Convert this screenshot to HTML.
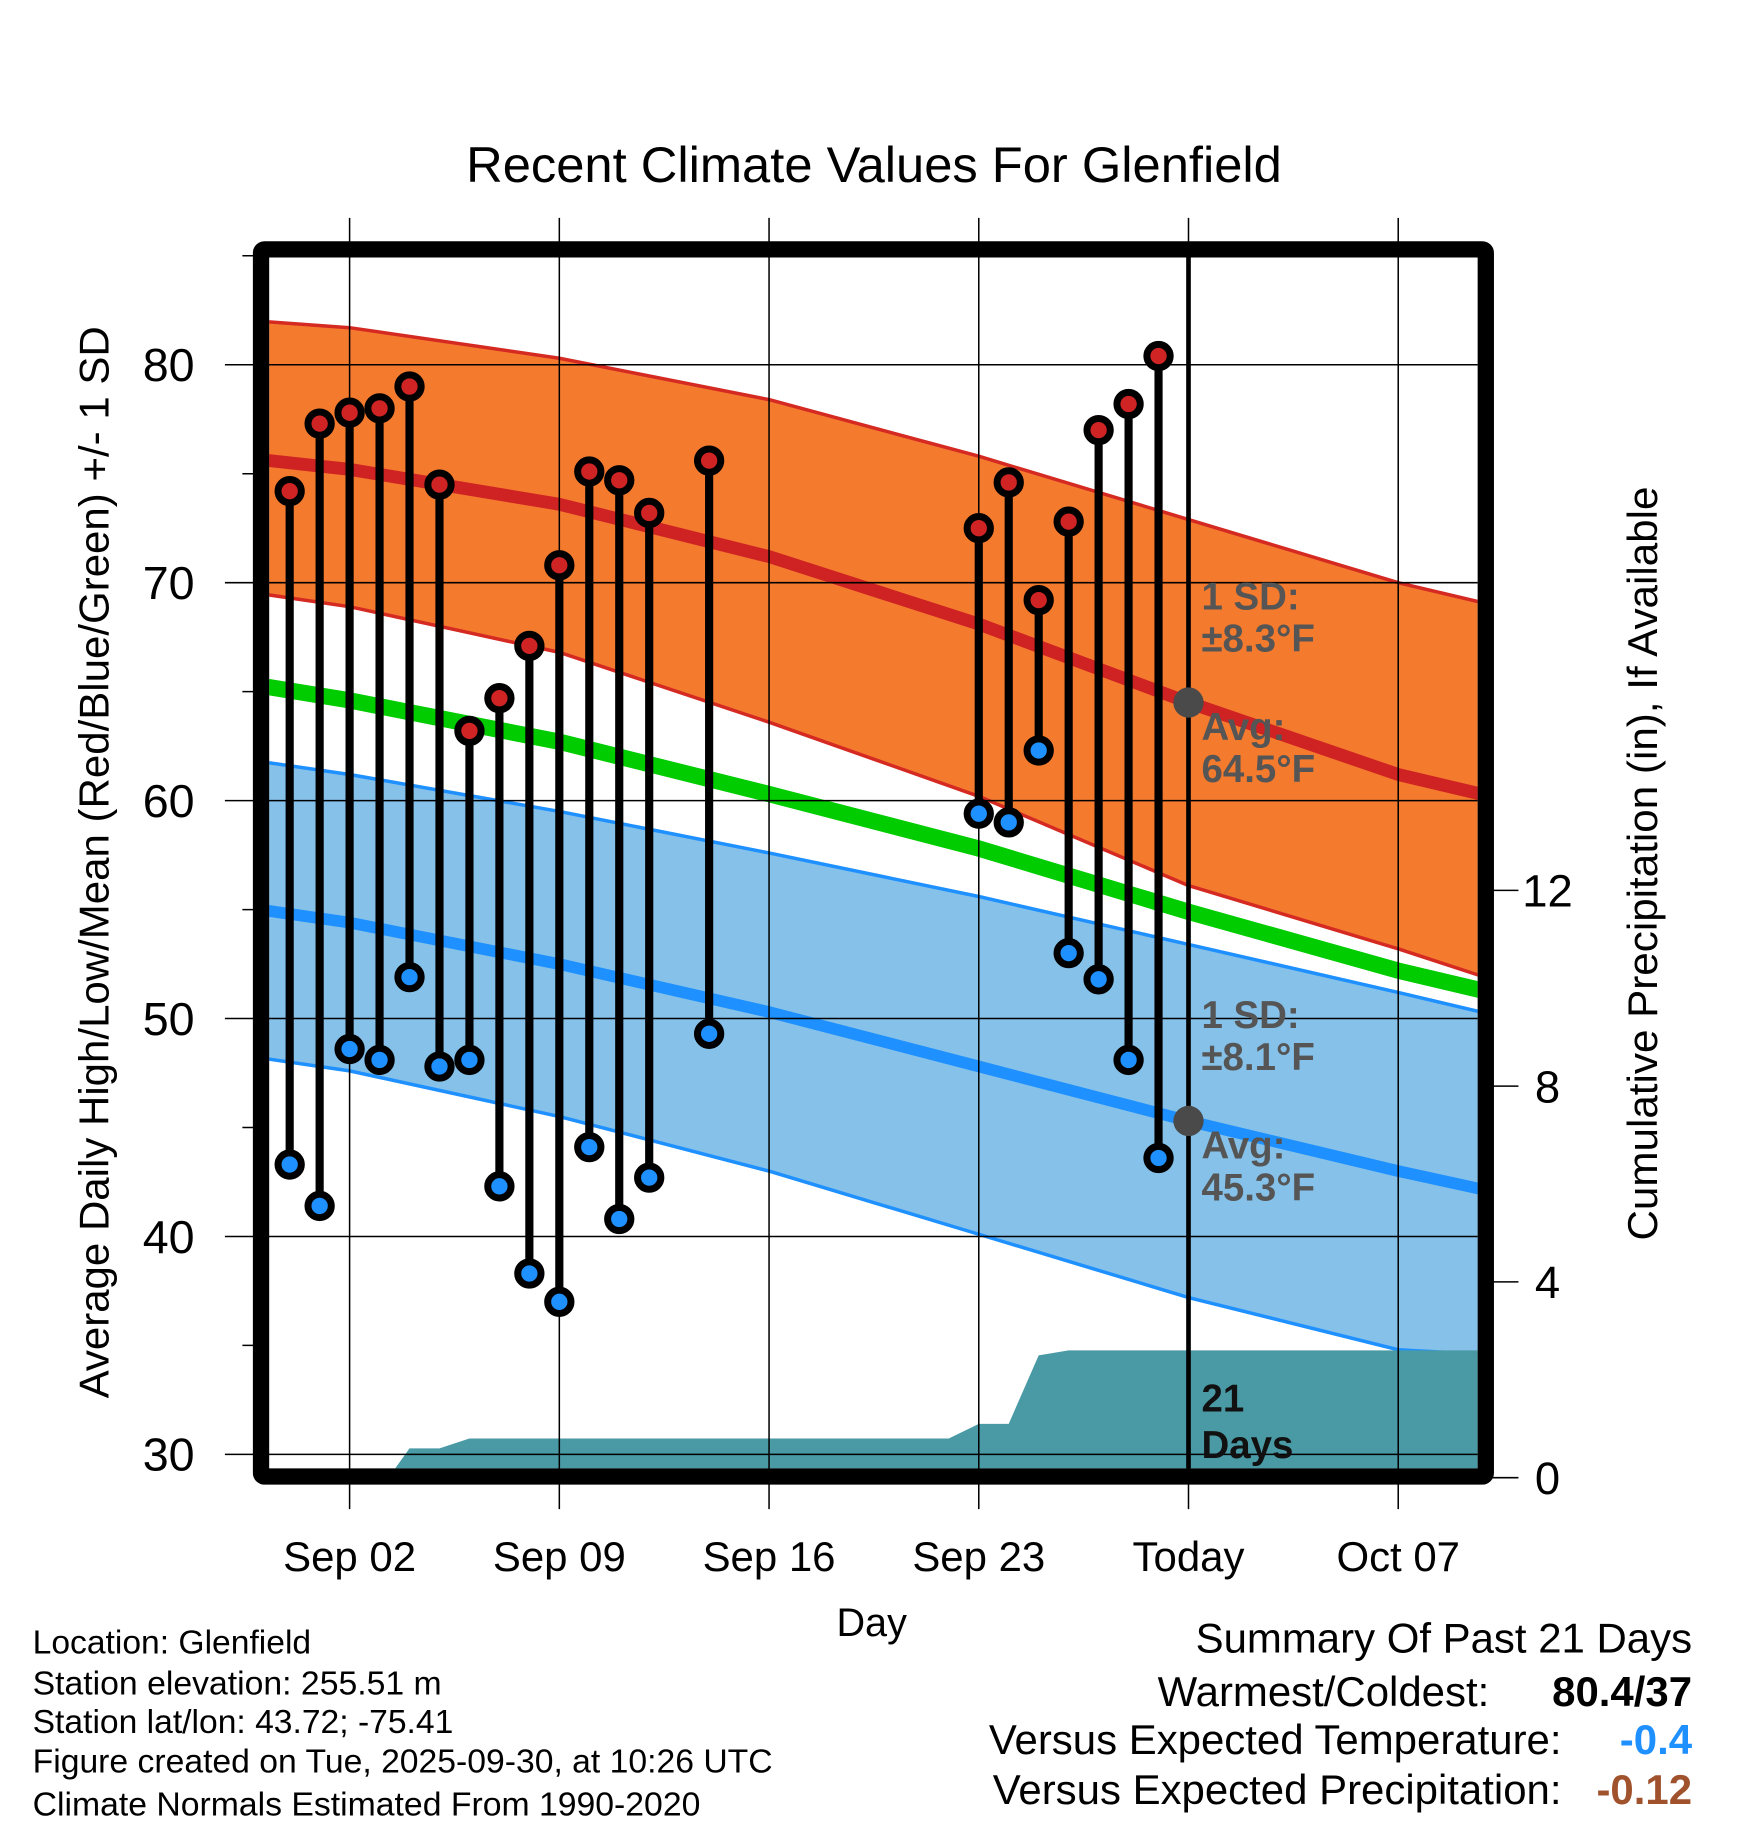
<!DOCTYPE html>
<html><head><meta charset="utf-8"><style>html,body{margin:0;padding:0;background:#fff}svg{display:block}text{font-family:"Liberation Sans",Arial,sans-serif}</style></head>
<body>
<svg id="chart" width="1748" height="1828" viewBox="0 0 1500 1568.6" preserveAspectRatio="none" xmlns="http://www.w3.org/2000/svg">
<defs><clipPath id="pc"><rect x="231" y="221" width="1037" height="1039"/></clipPath></defs>
<text x="750" y="156" font-size="43" text-anchor="middle" textLength="700" lengthAdjust="spacingAndGlyphs">Recent Climate Values For Glenfield</text>
<g id="bands" clip-path="url(#pc)"></g>
<g id="grid"></g>
<g id="marks" clip-path="url(#pc)"></g>
<g id="frame"></g>
<g id="labels"></g>
<text x="748" y="1404" font-size="34" text-anchor="middle">Day</text>
<text transform="translate(93,740) rotate(-90)" font-size="36" text-anchor="middle" textLength="920" lengthAdjust="spacingAndGlyphs">Average Daily High/Low/Mean (Red/Blue/Green) +/- 1 SD</text>
<text transform="translate(1422,741) rotate(-90)" font-size="36" text-anchor="middle" textLength="647" lengthAdjust="spacingAndGlyphs">Cumulative Precipitation (in), If Available</text>
<g font-size="29">
<text x="28" y="1419" textLength="239" lengthAdjust="spacingAndGlyphs">Location: Glenfield</text>
<text x="28" y="1454" textLength="351" lengthAdjust="spacingAndGlyphs">Station elevation: 255.51 m</text>
<text x="28" y="1487" textLength="361" lengthAdjust="spacingAndGlyphs">Station lat/lon: 43.72; -75.41</text>
<text x="28" y="1521" textLength="635" lengthAdjust="spacingAndGlyphs">Figure created on Tue, 2025-09-30, at 10:26 UTC</text>
<text x="28" y="1558" textLength="573" lengthAdjust="spacingAndGlyphs">Climate Normals Estimated From 1990-2020</text>
</g>
<g font-size="36" text-anchor="end">
<text x="1452" y="1418">Summary Of Past 21 Days</text>
<text x="1278" y="1464">Warmest/Coldest:</text>
<text x="1452" y="1464" font-weight="bold">80.4/37</text>
<text x="1340" y="1505">Versus Expected Temperature:</text>
<text x="1452" y="1505" font-weight="bold" fill="#1e90ff">-0.4</text>
<text x="1340" y="1548">Versus Expected Precipitation:</text>
<text x="1452" y="1548" font-weight="bold" fill="#a0522d">-0.12</text>
</g>
</svg>
<script>
// days since Sep 01 (Sep02 = 1)
const obsDays = [-1,0,1,2,3,4,5,6,7,8,9,10,11,13,22,23,24,25,26,27,28];
const obsHigh = [74.2,77.3,77.8,78.0,79.0,74.5,63.2,64.7,67.1,70.8,75.1,74.7,73.2,75.6,72.5,74.6,69.2,72.8,77.0,78.2,80.4];
const obsLow  = [43.3,41.4,48.6,48.1,51.9,47.8,48.1,42.3,38.3,37.0,44.1,40.8,42.7,49.3,59.4,59.0,62.3,53.0,51.8,48.1,43.6];
const normDays = [-3,1,8,15,22,29,36,40];
const normHigh = [75.8,75.2,73.6,71.2,68.1,64.5,61.2,59.9];
const normHighUp = [82.1,81.7,80.3,78.4,75.8,72.9,70.0,68.7];
const normHighLo = [69.7,68.9,66.8,63.6,60.2,56.1,53.2,51.4];
const normMean = [65.5,64.6,62.7,60.3,57.8,54.9,52.2,50.9];
const normLow = [55.2,54.4,52.5,50.3,47.8,45.3,43.0,41.8];
const normLowUp = [62.0,61.2,59.5,57.6,55.6,53.4,51.2,49.9];
const normLowLo = [48.4,47.6,45.5,43.0,40.1,37.2,34.8,34.5];
const precipDays = [2.3,3,4,5,21,22,23,24,25,41];
const precipVals = [0,0.6,0.6,0.8,0.8,1.1,1.1,2.5,2.6,2.6];
const xTickDays = [1,8,15,22,29,36];
const xTickLabels = ["Sep 02","Sep 09","Sep 16","Sep 23","Today","Oct 07"];
const yTicks = [30,40,50,60,70,80];
const y2Ticks = [0,4,8,12];

const NS="http://www.w3.org/2000/svg";
const X=d=>300+(d-1)*25.71;
const Y=v=>313+(80-v)*18.7;
const Y2=p=>1268-p*42;
function el(tag,attrs,parent){const e=document.createElementNS(NS,tag);for(const k in attrs)e.setAttribute(k,attrs[k]);parent.appendChild(e);return e;}
const bands=document.getElementById('bands'),grid=document.getElementById('grid'),marks=document.getElementById('marks'),frame=document.getElementById('frame'),labels=document.getElementById('labels');
const pts=(arr)=>normDays.map((d,i)=>X(d).toFixed(1)+','+Y(arr[i]).toFixed(1));
function band(up,lo,fill,edge,name){
  const p=el('polygon',{points:pts(up).concat(pts(lo).reverse()).join(' '),fill:fill},bands);
  
  
  [up,lo].forEach(a=>{const l=el('polyline',{points:pts(a).join(' '),fill:'none',stroke:edge,'stroke-width':3},bands);
  
  });
}
band(normHighUp,normHighLo,'#f47a2e','#d42a22','high-sd-band');
band(normLowUp,normLowLo,'#85c1e9','#1e90ff','low-sd-band');
[[normHigh,'#cf2222',11,'normal-high-line'],[normMean,'#00cc00',14,'normal-mean-line'],[normLow,'#1e90ff',10,'normal-low-line']].forEach(([a,c,w,n])=>{
  const l=el('polyline',{points:pts(a).join(' '),fill:'none',stroke:c,'stroke-width':w},bands);
  
  
});
{let s=precipDays.map((d,i)=>X(d).toFixed(1)+','+Y2(precipVals[i]).toFixed(1));
 s.push(X(precipDays[precipDays.length-1])+','+Y2(0));s.unshift(X(precipDays[0])+','+Y2(0));
 const a=el('polygon',{points:s.join(' '),fill:'#4a9aa5'},bands);
 
 }
xTickDays.forEach((d,i)=>{
  const l=el('line',{x1:X(d),x2:X(d),y1:187,y2:1295,stroke:'#000','stroke-width':1.3},grid);
  
  
  const t=el('text',{x:X(d),y:1348,'font-size':36,'text-anchor':'middle'},labels);
  t.textContent=xTickLabels[i];
  
  
});
yTicks.forEach(v=>{
  const l=el('line',{x1:193,x2:1268,y1:Y(v),y2:Y(v),stroke:'#000','stroke-width':1.3},grid);
  
  
  const t=el('text',{x:167,y:Y(v)+14,'font-size':40,'text-anchor':'end'},labels);
  t.textContent=v;
  
  
});
[35,45,55,65,75,85].forEach(v=>{el('line',{x1:208,x2:224,y1:Y(v),y2:Y(v),stroke:'#000','stroke-width':1.3},grid);});
y2Ticks.forEach(p=>{
  const l=el('line',{x1:1275,x2:1303,y1:Y2(p),y2:Y2(p),stroke:'#000','stroke-width':1.3},grid);
  
  
  const t=el('text',{x:1328,y:Y2(p)+14,'font-size':39,'text-anchor':'middle'},labels);
  t.textContent=p;
  
  
});
{const l=el('line',{x1:X(29),x2:X(29),y1:221,y2:1262,stroke:'#000','stroke-width':4},marks);
 
 }
obsDays.forEach((d,i)=>{
  const g=el('g',{},marks);
  
  
  el('line',{x1:X(d),x2:X(d),y1:Y(obsHigh[i]),y2:Y(obsLow[i]),stroke:'#000','stroke-width':7},g);
  const h=el('circle',{cx:X(d),cy:Y(obsHigh[i]),r:10,fill:'#d02424',stroke:'#000','stroke-width':6},g);
  
  
  const lo=el('circle',{cx:X(d),cy:Y(obsLow[i]),r:10,fill:'#1e90ff',stroke:'#000','stroke-width':6},g);
  
  
});
const ti=normDays.indexOf(29);
[[normHigh[ti],'today-avg-high-dot'],[normLow[ti],'today-avg-low-dot']].forEach(([v,n])=>{
  const c=el('circle',{cx:X(29),cy:Y(v),r:13,fill:'#4a4a4a'},marks);
  
  
});
const ann=[["1 SD:",523,'#555'],["±8.3°F",559,'#555'],["Avg:",635,'#555'],["64.5°F",671,'#555'],["1 SD:",882,'#555'],["±8.1°F",918,'#555'],["Avg:",994,'#555'],["45.3°F",1030,'#555'],["21",1211,'#111'],["Days",1251,'#111']];
ann.forEach(([s,y,c])=>{
  const t=el('text',{x:1031,y:y,'font-size':33,'font-weight':'bold',fill:c},labels);
  t.textContent=s;
  
  
});
{const f=el('rect',{x:224,y:214,width:1051,height:1053,fill:'none',stroke:'#000','stroke-width':14,rx:3},frame);
 
 }
</script>
</body></html>
